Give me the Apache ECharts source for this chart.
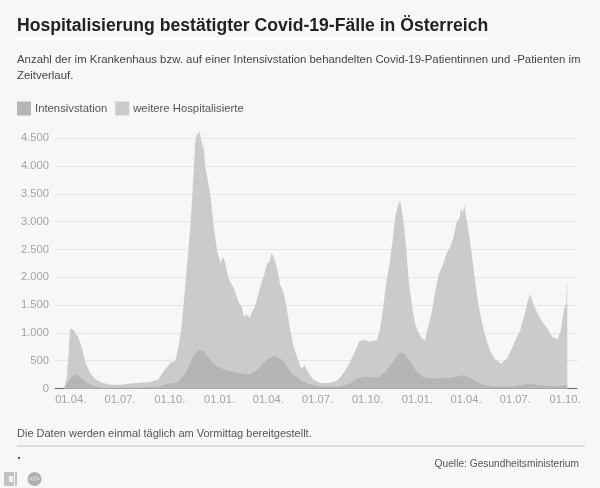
<!DOCTYPE html>
<html><head><meta charset="utf-8">
<style>html,body{margin:0;padding:0;background:#f7f7f7}#c{width:600px;height:488px}</style>
<script src="https://cdn.jsdelivr.net/npm/echarts@6/dist/echarts.min.js"></script>
</head><body><div id="c"></div>
<script>
// Days since 01.04.2020 and hospital counts.
const totalDays = [-12,-7,-4,-1,5,8,14,21,27,36,45,58,73,91,110,128,147,162,171,184,193,199,205,211,217,222,226,230,233,235,238,241,243,245,248,251,258,263,267,271,273,277,281,285,291,301,310,316,320,325,330,335,341,347,351,357,363,367,371,376,381,387,393,399,405,411,418,424,428,432,439,448,461,479,494,504,516,525,533,541,553,565,571,577,582,589,595,599,603,608,614,619,625,632,636,642,648,654,660,667,673,679,687,694,701,707,713,718,721,724,727,731,736,741,747,753,760,766,775,784,795,806,815,821,830,838,843,848,854,861,871,880,889,899,905,911,915,917];
const totalValues = [0,223,636,1085,1050,1085,923,726,474,277,169,102,66,61,92,102,115,163,300,462,497,749,1139,1803,2455,3060,3712,4431,4600,4551,4641,4461,4318,4431,4012,3868,3473,2994,2701,2455,2486,2252,2365,2275,1983,1803,1557,1467,1288,1336,1264,1378,1498,1713,1857,2037,2252,2275,2432,2342,2162,1857,1737,1444,1085,779,569,390,366,420,277,163,97,97,151,277,480,659,851,875,839,869,1049,1444,1857,2252,2701,3060,3240,3384,3060,2575,1857,1378,1175,1013,905,869,1108,1378,1737,2037,2216,2432,2545,2725,2994,3060,3240,3150,3294,3024,2755,2396,1916,1498,1175,929,659,523,451,546,726,869,1049,1318,1534,1695,1534,1378,1198,1085,929,887,1049,1408,1534,1947];
const icuDays = [-12,-4,2,8,18,30,42,58,110,165,178,195,202,214,227,236,245,258,270,288,307,331,347,362,376,393,408,427,442,461,497,516,528,541,568,581,593,605,614,627,639,654,676,701,725,737,750,762,780,817,848,873,897,917];
const icuValues = [0,120,210,253,199,97,43,13,13,30,79,97,151,300,600,690,677,510,390,330,282,253,366,523,587,492,271,133,74,31,38,92,181,210,199,300,451,630,648,480,300,192,181,192,235,199,120,61,31,38,84,48,38,56];
const tickDays = [0,91,183,275,365,456,548,640,730,821,913];
const tickLabels = ['01.04.','01.07.','01.10.','01.01.','01.04.','01.07.','01.10.','01.01.','01.04.','01.07.','01.10.'];
const FONT = '"Liberation Sans", Arial, sans-serif';
const zip = (a, b) => a.map((v, i) => [v, b[i]]);
const txt = (x, y, text, size, fill, extra) => ({type:'text', x, y, silent:true,
  style:Object.assign({text, font:size + 'px ' + FONT, fill, textVerticalAlign:'middle'}, extra || {})});
const chart = echarts.init(document.getElementById('c'), null, {renderer:'canvas'});
chart.setOption({
  animation:false,
  backgroundColor:'#f7f7f7',
  grid:{left:55, right:23, top:138.3, height:250.2},
  legend:{left:17, top:101.5, itemWidth:14, itemHeight:14, itemGap:8, icon:'rect', padding:0,
    data:['Intensivstation','weitere Hospitalisierte'],
    textStyle:{fontFamily:FONT, fontSize:11.3, color:'#555', padding:[0,0,0,-1]}},
  xAxis:{type:'value', min:-29, max:935,
    splitLine:{show:false},
    axisLine:{show:true, onZero:false, lineStyle:{color:'#666', width:1}},
    axisTick:{show:false},
    axisLabel:{customValues:tickDays, margin:6, fontFamily:FONT, fontSize:11.2, color:'#a3a3a3',
      hideOverlap:false, formatter:v => tickLabels[tickDays.indexOf(v)]}},
  yAxis:{type:'value', min:0, max:4500, interval:500,
    axisLine:{show:false}, axisTick:{show:false},
    splitLine:{lineStyle:{color:'#e6e6e6', width:1}},
    axisLabel:{margin:6, fontFamily:FONT, fontSize:11.2, color:'#a3a3a3',
      formatter:v => String(v).replace(/\B(?=(\d{3})+$)/, '.')}},
  series:[
    {name:'weitere Hospitalisierte', type:'line', data:zip(totalDays,totalValues), clip:false,
      showSymbol:false, lineStyle:{width:0}, itemStyle:{color:'#cbcbcb'},
      areaStyle:{color:'#cbcbcb', opacity:1}},
    {name:'Intensivstation', type:'line', data:zip(icuDays,icuValues), clip:false,
      showSymbol:false, lineStyle:{width:0}, itemStyle:{color:'#b5b5b5'},
      areaStyle:{color:'#b5b5b5', opacity:1}}
  ],
  graphic:[
    {type:'rect', silent:true, shape:{x:17,y:37,width:471,height:3}, style:{fill:'#ffffff'}},
    txt(17, 26, 'Hospitalisierung bestätigter Covid-19-Fälle in Österreich', 'bold 17.6', '#222'),
    txt(17, 60, 'Anzahl der im Krankenhaus bzw. auf einer Intensivstation behandelten Covid-19-Patientinnen und -Patienten im', 11.4, '#444'),
    txt(17, 76, 'Zeitverlauf.', 11.4, '#444'),
    txt(17, 434, 'Die Daten werden einmal täglich am Vormittag bereitgestellt.', 11, '#555'),
    {type:'rect', silent:true, shape:{x:17,y:445.5,width:568,height:1}, style:{fill:'#c4c4c4'}},
    {type:'rect', silent:true, shape:{x:18,y:457,width:2,height:2}, style:{fill:'#555'}},
    txt(579, 464, 'Quelle: Gesundheitsministerium', 10.2, '#555', {textAlign:'right'}),
    {type:'rect', silent:true, shape:{x:4,y:472,width:10,height:14}, style:{fill:'#c2c2c2'}},
    {type:'rect', silent:true, shape:{x:15,y:472,width:2,height:14}, style:{fill:'#c2c2c2'}},
    {type:'rect', silent:true, shape:{x:9,y:476,width:4,height:6}, style:{fill:'#f0f0f0'}},
    {type:'circle', silent:true, shape:{cx:34.5,cy:479,r:7}, style:{fill:'#b0b0b0'}},
    txt(34.5, 479, '</>', 7, '#f0f0f0', {textAlign:'center'})
  ]
});
</script></body></html>
